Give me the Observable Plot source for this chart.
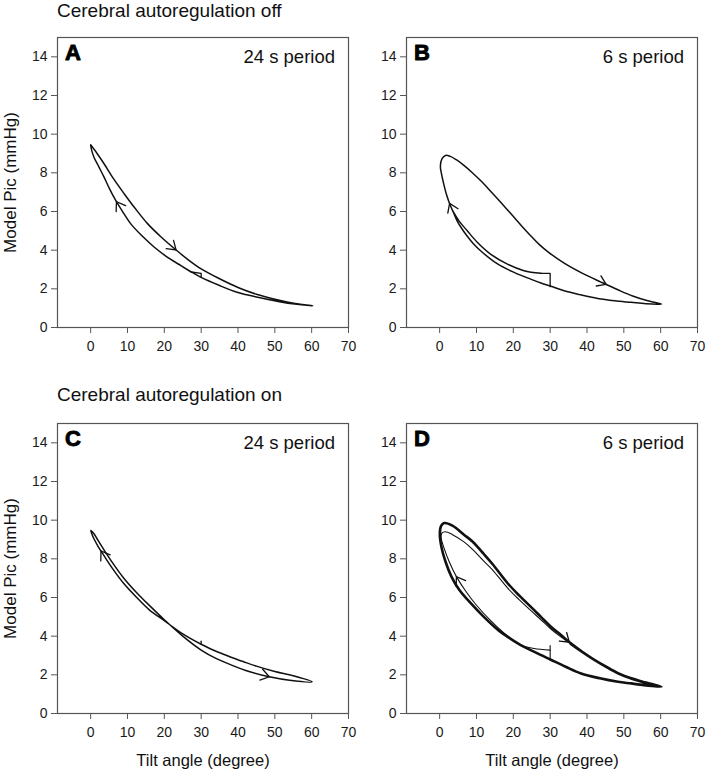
<!DOCTYPE html>
<html><head><meta charset="utf-8">
<script src="https://cdn.jsdelivr.net/npm/d3@7"></script>
<script src="https://cdn.jsdelivr.net/npm/@observablehq/plot@0.6"></script>
<style>
body{margin:0;background:#fff;font-family:"Liberation Sans",Arial,sans-serif;}
#wrap{position:relative;width:709px;height:771px;overflow:hidden;background:#fff;}
.title{position:absolute;left:57px;font-size:19px;line-height:19px;color:#111;white-space:nowrap;}
.panel{position:absolute;}
</style></head><body>
<div id="wrap">
  <div class="title" style="top:1px">Cerebral autoregulation off</div>
  <div class="title" style="top:384.5px">Cerebral autoregulation on</div>
  <div class="panel" id="pA" style="left:0px;top:0px"></div>
  <div class="panel" id="pB" style="left:348.7px;top:0px"></div>
  <div class="panel" id="pC" style="left:0px;top:386px"></div>
  <div class="panel" id="pD" style="left:348.7px;top:386px"></div>
</div>
<script>
// ---- axis ticks ----
const xTicks = [0, 10, 20, 30, 40, 50, 60, 70];
const yTicks = [0, 2, 4, 6, 8, 10, 12, 14];
const xLabel = "Tilt angle (degree)";
const yLabel = "Model Pic (mmHg)";

// ---- Panel A: autoregulation off, 24 s period ----
const A_start_tilt = [30, 30, 27.3];
const A_start_pic  = [2.59, 2.80, 2.87];
const A_loop_tilt = [27.3, 24.5, 20.5, 17.3, 14, 10.9, 8.5, 6.8, 5, 3.64, 2.2, 0.9, 0.3, 0, 0.6, 1.8, 3.64, 6.2, 9.1, 12, 15.5, 19.2, 23.2, 26.5, 30, 35, 40, 45, 50.9, 55.5, 60.3, 56, 50.9, 45, 40, 35, 30, 27.3, 24.5, 20.5, 17.3];
const A_loop_pic  = [2.87, 3.2, 3.68, 4.15, 4.73, 5.36, 6.05, 6.57, 7.22, 7.78, 8.32, 8.81, 9.15, 9.45, 9.3, 8.99, 8.47, 7.7, 6.92, 6.18, 5.36, 4.67, 4.01, 3.5, 3.03, 2.52, 2.07, 1.72, 1.42, 1.24, 1.12, 1.2, 1.35, 1.58, 1.81, 2.17, 2.59, 2.88, 3.2, 3.68, 4.15];
const A_arrow_tail_tilt = [9.3, 20.5];
const A_arrow_tail_pic  = [5.82, 4.46];
const A_arrow_tip_tilt  = [7.0, 23.2];
const A_arrow_tip_pic   = [6.51, 4.01];

// ---- Panel B: autoregulation off, 6 s period ----
const B_start_tilt = [30, 30, 27.5];
const B_start_pic  = [2.11, 2.8, 2.8];
const B_loop_tilt = [27.5, 22.9, 18.4, 13.8, 10.2, 7.5, 5.3, 3.8, 2.9, 1.9, 1.1, 0.45, 0.2, 0.65, 1.6, 2.9, 4.5, 6.5, 8.8, 11.1, 13.4, 15.7, 18, 20.2, 22.5, 24.7, 27, 29.5, 33.8, 38.8, 43.8, 48.4, 52.4, 56.5, 60.2, 56, 52, 47.5, 42.9, 38, 33.8, 30.2, 27.5, 24.7, 20.2, 15.6, 11.1, 9.1, 7.5, 6, 4.7, 3.8, 2.9];
const B_loop_pic  = [2.8, 2.94, 3.28, 3.8, 4.41, 5.0, 5.5, 5.95, 6.31, 6.85, 7.43, 8.0, 8.35, 8.73, 8.9, 8.85, 8.68, 8.4, 8.02, 7.6, 7.14, 6.66, 6.17, 5.7, 5.2, 4.75, 4.3, 3.9, 3.33, 2.8, 2.35, 1.95, 1.63, 1.38, 1.21, 1.23, 1.3, 1.38, 1.5, 1.7, 1.9, 2.13, 2.3, 2.5, 2.85, 3.3, 3.97, 4.34, 4.72, 5.12, 5.53, 5.92, 6.31];
const B_arrow_tail_tilt = [4.3, 42];
const B_arrow_tail_pic  = [5.72, 2.51];
const B_arrow_tip_tilt  = [2.7, 45.2];
const B_arrow_tip_pic   = [6.42, 2.23];

// ---- Panel C: autoregulation on, 24 s period ----
const C_start_tilt = [30, 30];
const C_start_pic  = [3.74, 3.58];
const C_loop_tilt = [30, 25, 20, 16, 12.5, 9, 6, 3.5, 2, 1, 0.3, 0.05, 0.9, 2, 3.5, 6, 9, 12.5, 16, 20, 25, 30, 34, 38.3, 43, 48.5, 54, 60.1, 55, 50, 45, 41.5, 38.3, 34, 30];
const C_loop_pic  = [3.58, 4.12, 4.8, 5.35, 6.0, 6.72, 7.48, 8.2, 8.65, 9.0, 9.3, 9.47, 9.3, 8.95, 8.5, 7.78, 7.0, 6.25, 5.58, 4.85, 4.0, 3.28, 2.85, 2.5, 2.17, 1.9, 1.72, 1.64, 1.95, 2.17, 2.45, 2.68, 2.9, 3.22, 3.58];
const C_arrow_tail_tilt = [4.5, 45];
const C_arrow_tail_pic  = [7.91, 2.07];
const C_arrow_tip_tilt  = [2.8, 48.5];
const C_arrow_tip_pic   = [8.41, 1.9];

// ---- Panel D: autoregulation on, 6 s period ----
const D_start_tilt = [30, 30, 30];
const D_start_pic  = [2.78, 3.52, 3.28];
const D_first_tilt = [30, 25.6, 22, 18, 14, 10, 7, 4.55, 2.6, 1.2, 0.4, 0.6, 1.5, 3.5, 6.6, 9, 12, 14.4, 18.4, 21.5, 24.7, 27.5, 30.2, 33, 35.6];
const D_first_pic  = [3.28, 3.36, 3.54, 4.08, 4.78, 5.6, 6.35, 7.08, 7.85, 8.55, 9.1, 9.33, 9.4, 9.25, 8.88, 8.48, 7.88, 7.42, 6.5, 5.9, 5.33, 4.85, 4.37, 3.95, 3.6];
const D_cycle_tilt = [35.6, 38.8, 42, 45.2, 48.4, 52, 56, 60.2, 56, 52, 48.4, 43.5, 38.4, 34.2, 30.2, 26, 22, 19, 16, 12, 8, 5.3, 3.2, 1.6, 0.5, 0.05, 0.4, 1.2, 3.46, 6.6, 8.9, 12, 14.4, 18.4, 21.5, 24.7, 27.5, 30.2, 33, 35.6, 38.8, 42, 45.2, 48.4, 52, 56, 60.2, 56, 52];
const D_cycle_pic  = [3.6, 3.17, 2.77, 2.41, 2.08, 1.81, 1.59, 1.38, 1.45, 1.55, 1.64, 1.82, 2.07, 2.42, 2.78, 3.16, 3.54, 3.9, 4.3, 5.0, 5.8, 6.4, 7.08, 7.85, 8.6, 9.3, 9.7, 9.85, 9.72, 9.25, 8.9, 8.25, 7.72, 6.75, 6.12, 5.53, 5.0, 4.49, 4.05, 3.63, 3.18, 2.78, 2.42, 2.09, 1.82, 1.6, 1.38, 1.46, 1.56];
const D_arrow_tail_tilt = [6.5, 32.5];
const D_arrow_tail_pic  = [6.5, 4.13];
const D_arrow_tip_tilt  = [4.55, 35.2];
const D_arrow_tip_pic   = [7.08, 3.69];

const panelLetters = ["A", "B", "C", "D"];
const panelPeriods = ["24 s period", "6 s period", "24 s period", "6 s period"];

// ---- layout / scales ----
const W = 351, ML = 57, MR = 3, MT = 37, PH = 290;
const xDomain = [-9, 70], yDomain = [0, 15];
const FONT = "'Liberation Sans', Arial, Helvetica, sans-serif";
// same mapping as the Plot scales, used only to orient the arrowheads
const xs = d3.scaleLinear(xDomain, [ML, W - MR]);
const ys = d3.scaleLinear(yDomain, [MT + PH, MT]);

const rows = (t, p) => t.map((v, i) => ({tilt: v, pic: p[i]}));
const arrowRows = (t1, p1, t2, p2) => t1.map((v, i) => {
  const dx = xs(t2[i]) - xs(v), dy = ys(p2[i]) - ys(p1[i]);
  return {x1: v, y1: p1[i], x2: t2[i], y2: p2[i], angle: Math.atan2(dx, -dy) * 180 / Math.PI};
});

// open chevron arrowhead (no shaft)
const chevron = {
  draw(context, l) {
    const a = 34 * Math.PI / 180;
    const w = l * Math.sin(a), h = l * Math.cos(a);
    context.moveTo(-w, -l + h);
    context.lineTo(0, -l);
    context.lineTo(w, -l + h);
  }
};

function arrowMark(data) {
  try {
    return Plot.vector(data, {x: "x2", y: "y2", rotate: "angle", length: 10, anchor: "end", shape: chevron, stroke: "#111", strokeWidth: 1.3, strokeLinejoin: "miter"});
  } catch (e) {
    return Plot.arrow(data, {x1: "x1", y1: "y1", x2: "x2", y2: "y2", stroke: "#111", strokeWidth: 1.2, headLength: 10, headAngle: 70});
  }
}

function panel({paths, arrows, letter, period, showY, showX, top}) {
  const marks = [
    Plot.frame({stroke: "#555", strokeWidth: 1.2}),
    Plot.axisX({ticks: xTicks, tickSize: 6, tickPadding: 7.5, fontSize: 14, stroke: "#555", fill: "#1a1a1a", label: null}),
    Plot.axisY({ticks: yTicks, tickSize: 6, tickPadding: 4, fontSize: 14, stroke: "#555", fill: "#1a1a1a", label: null})
  ];
  for (const p of paths) {
    marks.push(Plot.line(rows(p.t, p.p), {x: "tilt", y: "pic", curve: p.curve, stroke: "#111", strokeWidth: p.w, strokeLinejoin: "round", strokeLinecap: "round"}));
  }
  marks.push(arrowMark(arrows));
  marks.push(Plot.text([letter], {text: d => d, frameAnchor: "top-left", dx: 7.5, dy: 7, lineAnchor: "top", textAnchor: "start", fontSize: 22, fontWeight: 900, fill: "#000", stroke: "#000", strokeWidth: 0.9}));
  marks.push(Plot.text([period], {text: d => d, frameAnchor: "top-right", dx: -13.5, dy: 12.3, lineAnchor: "top", textAnchor: "end", fontSize: 18.5, fill: "#111"}));
  if (showY) marks.push(Plot.text([yLabel], {text: d => d, frameAnchor: "left", rotate: -90, dx: -42, lineAnchor: "bottom", textAnchor: "middle", fontSize: 17, fill: "#111"}));
  if (showX) marks.push(Plot.text([xLabel], {text: d => d, frameAnchor: "bottom", dy: 52.5, lineAnchor: "bottom", textAnchor: "middle", fontSize: 16.5, fill: "#111"}));
  return Plot.plot({
    width: W,
    height: top ? MT + PH + 30 : MT + PH + 58,
    marginLeft: ML, marginRight: MR, marginTop: MT, marginBottom: top ? 30 : 58,
    x: {domain: xDomain},
    y: {domain: yDomain},
    style: {background: "transparent", overflow: "visible", fontFamily: FONT},
    marks
  });
}

document.getElementById("pA").append(panel({
  paths: [
    {t: A_start_tilt, p: A_start_pic, curve: "linear", w: 1.3},
    {t: A_loop_tilt, p: A_loop_pic, curve: "catmull-rom", w: 1.5}
  ],
  arrows: arrowRows(A_arrow_tail_tilt, A_arrow_tail_pic, A_arrow_tip_tilt, A_arrow_tip_pic),
  letter: panelLetters[0], period: panelPeriods[0], showY: true, showX: false, top: true
}));
document.getElementById("pB").append(panel({
  paths: [
    {t: B_start_tilt, p: B_start_pic, curve: "linear", w: 1.3},
    {t: B_loop_tilt, p: B_loop_pic, curve: "catmull-rom", w: 1.5}
  ],
  arrows: arrowRows(B_arrow_tail_tilt, B_arrow_tail_pic, B_arrow_tip_tilt, B_arrow_tip_pic),
  letter: panelLetters[1], period: panelPeriods[1], showY: false, showX: false, top: true
}));
document.getElementById("pC").append(panel({
  paths: [
    {t: C_start_tilt, p: C_start_pic, curve: "linear", w: 1.3},
    {t: C_loop_tilt, p: C_loop_pic, curve: "catmull-rom", w: 1.5}
  ],
  arrows: arrowRows(C_arrow_tail_tilt, C_arrow_tail_pic, C_arrow_tip_tilt, C_arrow_tip_pic),
  letter: panelLetters[2], period: panelPeriods[2], showY: true, showX: true, top: false
}));
document.getElementById("pD").append(panel({
  paths: [
    {t: D_start_tilt, p: D_start_pic, curve: "linear", w: 1.1},
    {t: D_first_tilt, p: D_first_pic, curve: "catmull-rom", w: 1.1},
    {t: D_cycle_tilt, p: D_cycle_pic, curve: "catmull-rom", w: 2.6}
  ],
  arrows: arrowRows(D_arrow_tail_tilt, D_arrow_tail_pic, D_arrow_tip_tilt, D_arrow_tip_pic),
  letter: panelLetters[3], period: panelPeriods[3], showY: false, showX: true, top: false
}));
</script>
</body></html>
